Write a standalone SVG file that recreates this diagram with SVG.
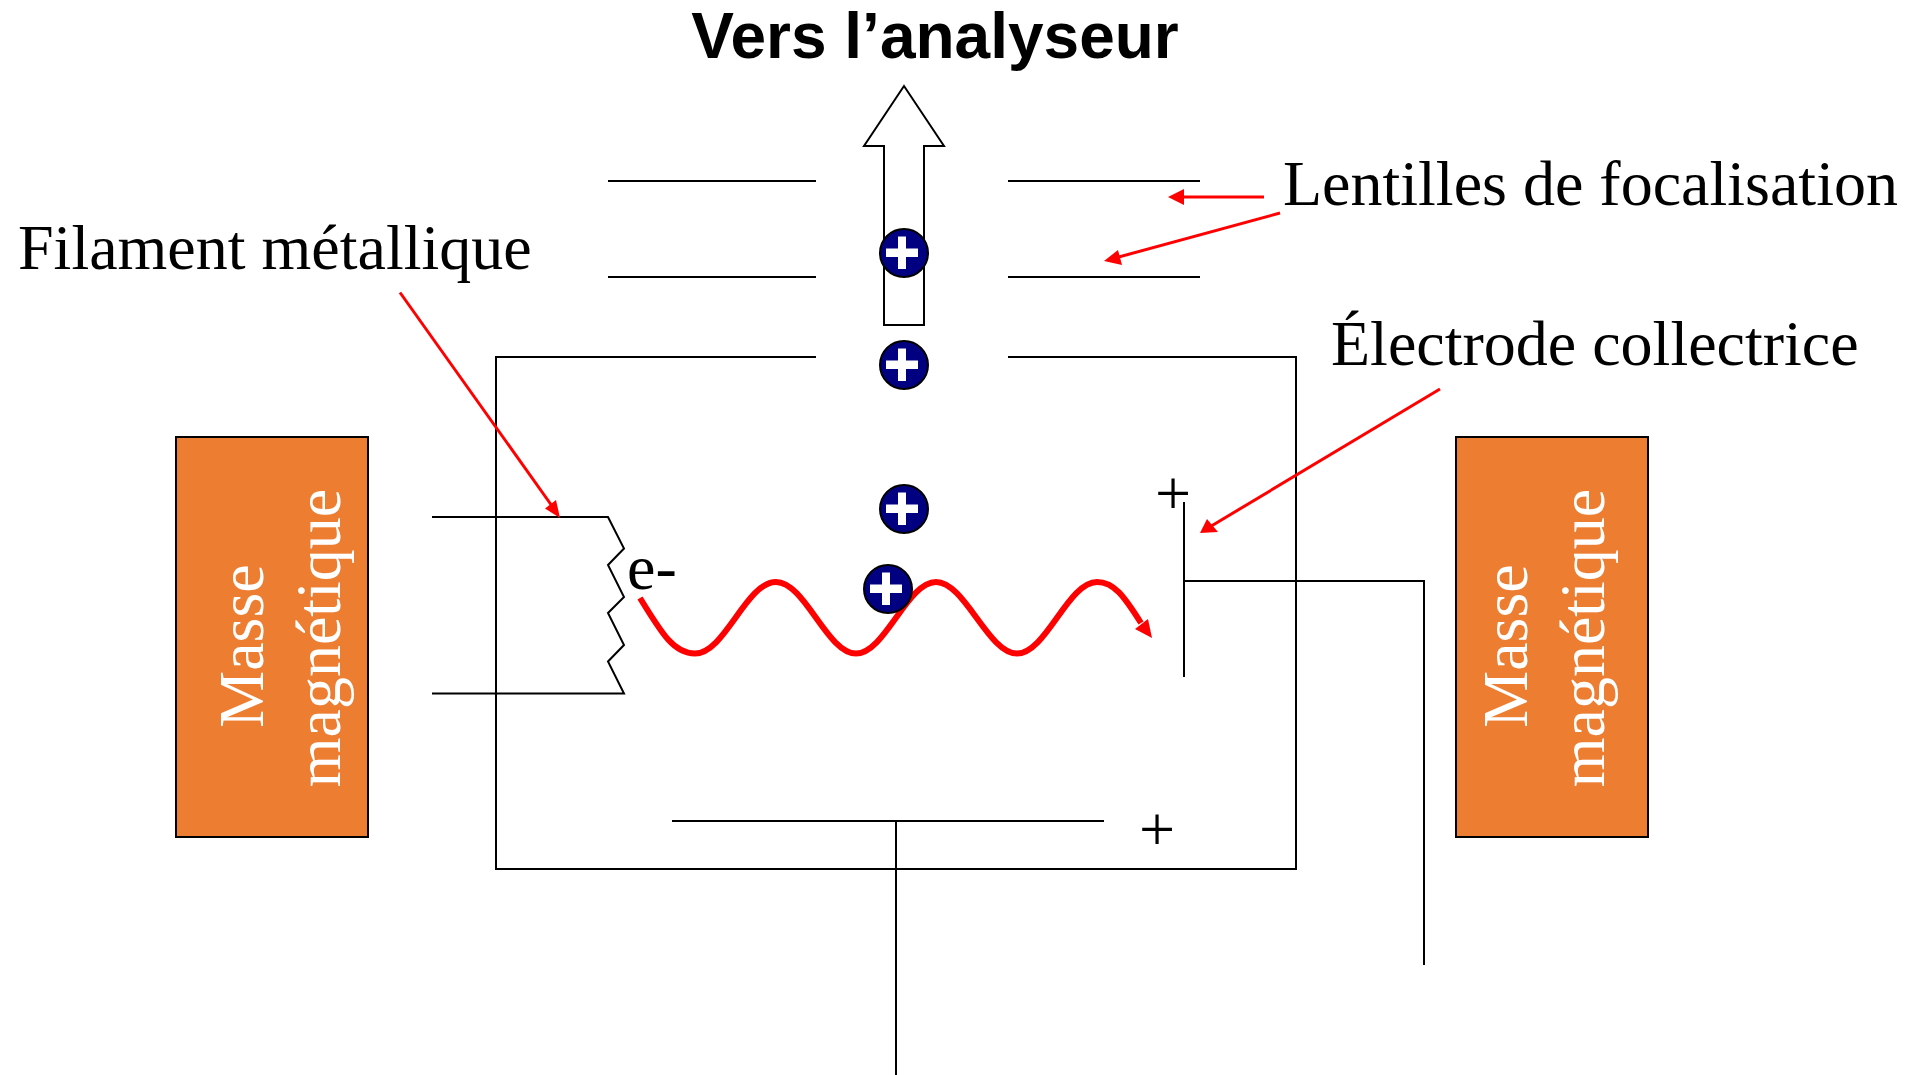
<svg xmlns="http://www.w3.org/2000/svg" width="1911" height="1075" viewBox="0 0 1911 1075">
<style>
.w{fill:none;stroke:#000;stroke-width:2}
.r{fill:none;stroke:#f00;stroke-width:3}
.rh{fill:#f00;stroke:none}
.t{font-family:"Liberation Serif","Times New Roman",serif;font-size:64px;fill:#000}
.m{font-family:"Liberation Serif","Times New Roman",serif;font-size:64px;fill:#fff;text-anchor:middle}
.mag{fill:#ed7d31;stroke:#000;stroke-width:2}
.ion{fill:#000080;stroke:#000;stroke-width:2}
.pl{fill:#fff}
</style>
<defs>
<g id="ionS"><circle class="ion" r="24"/><path class="pl" d="M-4,-16.500h8v12h12v8.500h-12v12h-8v-12h-12v-8.500h12z" transform="translate(-2,0)"/></g>
</defs>
<rect width="1911" height="1075" fill="#fff"/>
<g id="magnet-left"><rect class="mag" x="176" y="437" width="192" height="400"/>
<g transform="translate(263,646) rotate(-90)"><text class="m" x="0" y="0">Masse</text></g>
<g transform="translate(340,638) rotate(-90)"><text class="m" x="0" y="0">magnétique</text></g></g>
<g id="magnet-right"><rect class="mag" x="1456" y="437" width="192" height="400"/>
<g transform="translate(1527,646) rotate(-90)"><text class="m" x="0" y="0">Masse</text></g>
<g transform="translate(1604,638) rotate(-90)"><text class="m" x="0" y="0">magnétique</text></g></g>
<g id="connectors">
<path class="w" d="M608,181H816M608,277H816M1008,181H1200M1008,277H1200"/>
<path class="w" d="M816,357H496V869H1296V357H1008"/>
<path class="w" d="M432,517H608L624,548.500L608,565L624,597L608,613L624,645L608,661.500L624,693.500H432"/>
<path class="w" d="M1184,502V677M1184,581H1424V965"/>
<path class="w" d="M672,821H1104M896,821V1075"/>
<path class="w" d="M904,86L944,146H924V325H884V146H864Z" style="fill:#fff"/>
<path fill="none" stroke="#f00" stroke-width="6" d="M640,598C662,634 674,653.500 695,653.500C725,653.500 746,582 776,582C805,582 827,653.500 856,653.500C885,653.500 907,582 936,582C965,582 988,653.500 1017,653.500C1046,653.500 1068,582 1097,582C1114,582 1124,596 1141,623"/>
<path class="rh" d="M1152,638L1135,629L1148,619Z"/>
<path class="r" d="M400,292.500L552,506"/><path class="rh" d="M560,518L545,508.500L556,500Z"/>
<path class="r" d="M1264,197H1180"/><path class="rh" d="M1168,197L1184,189V205Z"/>
<path class="r" d="M1280,213L1115,258"/><path class="rh" d="M1104,261L1118,250L1122,265Z"/>
<path class="r" d="M1440,389L1208,528"/><path class="rh" d="M1200,533L1207,519L1218,532Z"/>
</g>
<g id="ion-1"><use href="#ionS" x="904" y="253"/></g>
<g id="ion-2"><use href="#ionS" x="904" y="365"/></g>
<g id="ion-3"><use href="#ionS" x="904" y="509"/></g>
<g id="ion-4"><use href="#ionS" x="888" y="589"/></g>
<g id="labels">
<text x="935" y="58" text-anchor="middle" style="font-family:'Liberation Sans',Arial,sans-serif;font-weight:700;font-size:64px">Vers l’analyseur</text>
<text class="t" x="1283" y="205">Lentilles de focalisation</text>
<text class="t" x="18" y="269">Filament métallique</text>
<text class="t" x="1331" y="365">Électrode collectrice</text>
<text class="t" x="627" y="589">e-</text>
<text class="t" x="1155" y="515">+</text>
<text class="t" x="1139" y="851">+</text>
</g>
</svg>
